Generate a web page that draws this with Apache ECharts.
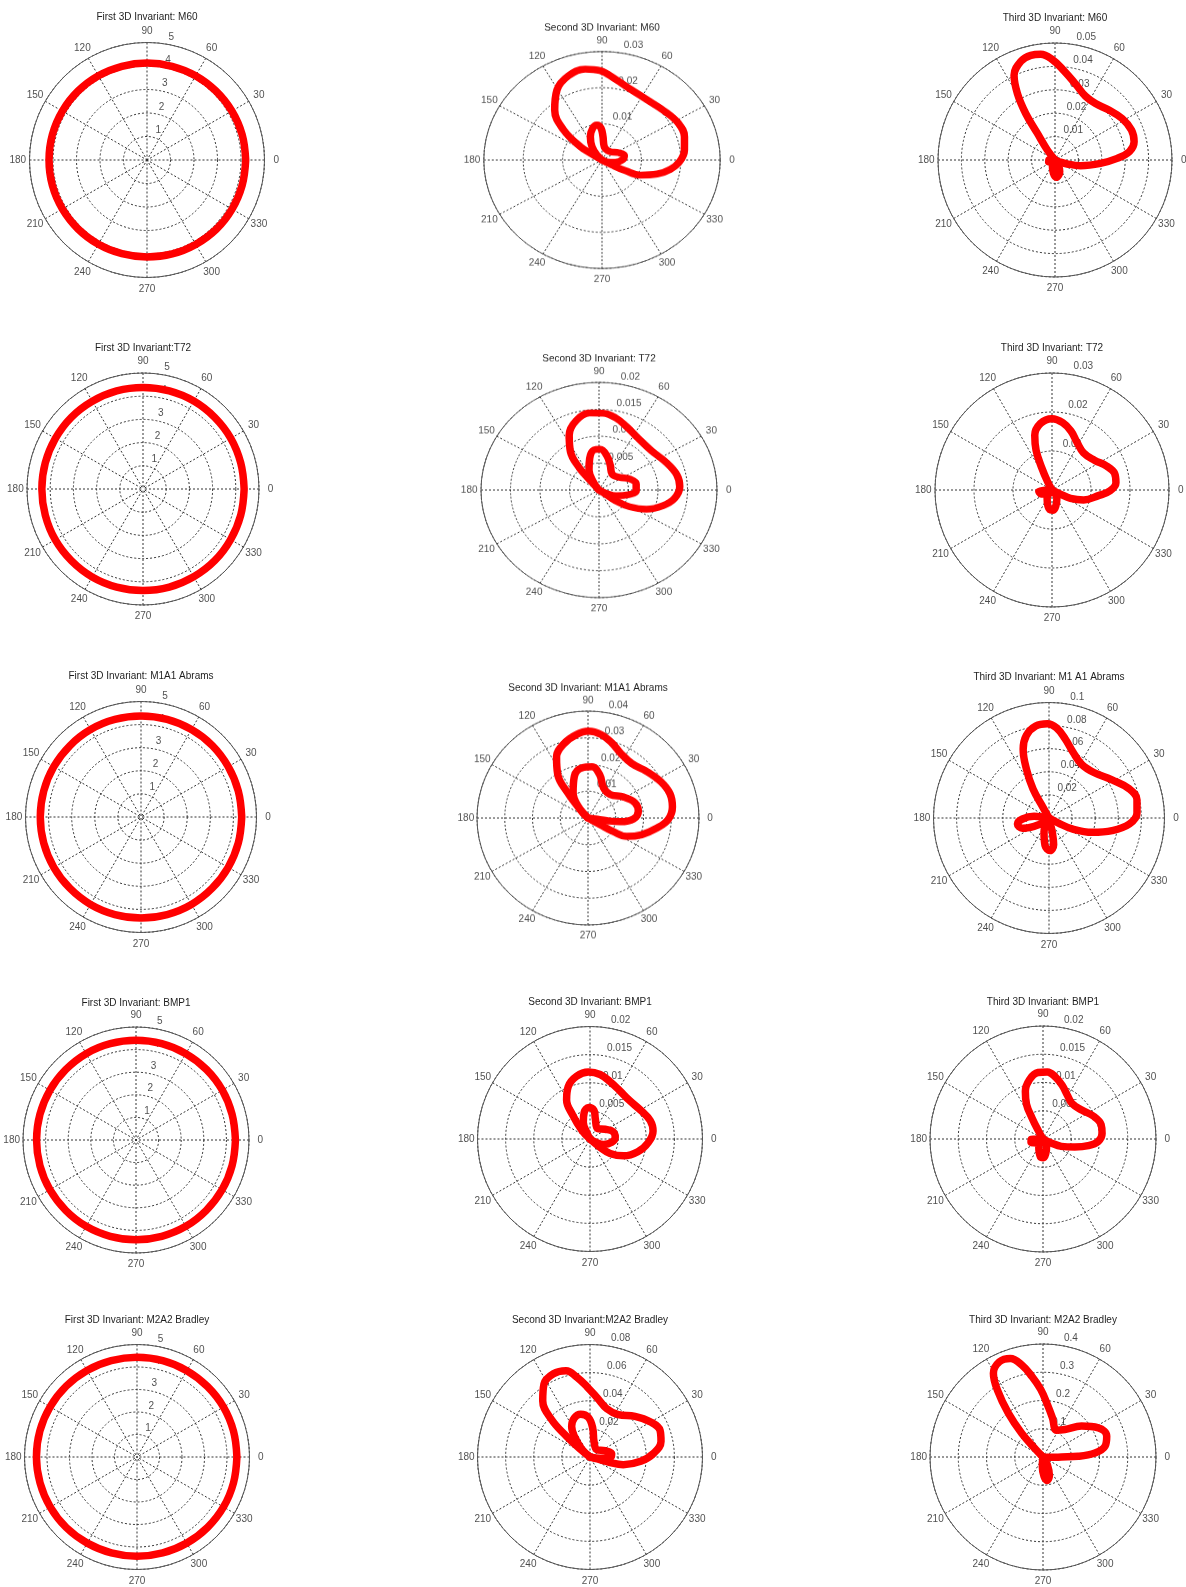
<!DOCTYPE html>
<html>
<head>
<meta charset="utf-8">
<script src="https://cdn.jsdelivr.net/npm/echarts@6/dist/echarts.min.js"></script>
<style>
  html, body { margin: 0; padding: 0; background: #fff; overflow: hidden; }
  body { position: relative; width: 1186px; height: 1587px; }
  .cell { position: absolute; width: 320px; height: 320px; transform-origin: 160px 160px; }
</style>
</head>
<body>
<script>
// ---- shared axis ticks ----
const angleTicks = [0, 30, 60, 90, 120, 150, 180, 210, 240, 270, 300, 330];
const circleAngles = [0, 15, 30, 45, 60, 75, 90, 105, 120, 135, 150, 165, 180,
                      195, 210, 225, 240, 255, 270, 285, 300, 315, 330, 345, 360];

const ticksFirst   = [1, 2, 3, 4, 5];
const ticks003     = [0.01, 0.02, 0.03];
const ticks005     = [0.01, 0.02, 0.03, 0.04, 0.05];
const ticks002     = [0.005, 0.01, 0.015, 0.02];
const ticks004     = [0.01, 0.02, 0.03, 0.04];
const ticks01      = [0.02, 0.04, 0.06, 0.08, 0.1];
const ticks008     = [0.02, 0.04, 0.06, 0.08];
const ticks04      = [0.1, 0.2, 0.3, 0.4];

// ---- first invariant: radius every 15 degrees ----
const m60FirstR   = [4.20, 4.19, 4.17, 4.15, 4.14, 4.13, 4.13, 4.13, 4.14, 4.15, 4.16, 4.17, 4.17,
                     4.17, 4.16, 4.15, 4.14, 4.13, 4.13, 4.14, 4.15, 4.17, 4.18, 4.19, 4.20];
const t72FirstR   = [4.36, 4.36, 4.37, 4.37, 4.38, 4.38, 4.38, 4.38, 4.37, 4.37, 4.36, 4.36, 4.36,
                     4.36, 4.37, 4.37, 4.38, 4.38, 4.38, 4.38, 4.37, 4.37, 4.36, 4.36, 4.36];
const m1a1FirstR  = [4.36, 4.36, 4.36, 4.37, 4.37, 4.37, 4.37, 4.37, 4.37, 4.36, 4.36, 4.36, 4.36,
                     4.36, 4.36, 4.36, 4.37, 4.37, 4.37, 4.37, 4.37, 4.36, 4.36, 4.36, 4.36];
const bmp1FirstR  = [4.40, 4.40, 4.41, 4.41, 4.41, 4.41, 4.41, 4.41, 4.41, 4.40, 4.40, 4.40, 4.40,
                     4.40, 4.40, 4.40, 4.41, 4.41, 4.41, 4.41, 4.41, 4.40, 4.40, 4.40, 4.40];
const m2a2FirstR  = [4.44, 4.44, 4.44, 4.43, 4.43, 4.43, 4.43, 4.43, 4.44, 4.45, 4.46, 4.47, 4.47,
                     4.46, 4.45, 4.44, 4.42, 4.41, 4.41, 4.41, 4.42, 4.43, 4.44, 4.44, 4.44];

// ---- second / third invariant traces: [radius, angle in degrees] ----
const m60SecondOuter = [[0,146],[0.0030,148],[0.0066,146],[0.0128,139.5],[0.0183,131],[0.0225,120.5],
  [0.0248,110],[0.0255,99.6],[0.0247,91],[0.0226,81.4],[0.0209,70],[0.0202,55.5],[0.0209,39.8],
  [0.0219,27.6],[0.0219,17.1],[0.0211,7.5],[0.0197,-1.3],[0.0175,-8.5],[0.0145,-15.5],[0.0106,-23.1],
  [0.0066,-26.5],[0.0029,-28.5],[0,-30]];
const m60SecondInner = [[0,130],[0.0019,132.6],[0.0045,124.5],[0.0071,114.6],[0.0091,105.1],[0.0098,97.5],
  [0.0088,91.6],[0.0065,87.8],[0.0037,80.9],[0.0031,47.6],[0.0047,25.6],[0.0058,12.8],[0.0053,1.9],
  [0.0034,-10.9],[0.0014,-23.4],[0,-30]];

const m60ThirdLobe = [[0,125],[0.0054,127.5],[0.0136,123.5],[0.0235,122.2],[0.0326,119.5],[0.0402,115.8],
  [0.0446,109.1],[0.0459,103],[0.0456,97.7],[0.0429,91.5],[0.0383,84.2],[0.0336,74.8],[0.0302,64.4],
  [0.0297,54.3],[0.0314,42.8],[0.0337,31.7],[0.0351,21.4],[0.0347,13],[0.0320,6.4],[0.0266,1.5],
  [0.0195,-4.2],[0.0112,-12.5],[0.0055,-18],[0.0019,-22.6],[0,-25]];
const m60ThirdTail = [[0,180],[0.0026,180],[0.0028,195],[0.0012,215],[0,230],[0.0024,242],[0.0057,263],
  [0.0074,274],[0.0054,292],[0.0026,304],[0,310]];

const t72SecondOuter = [[0,130],[0.0020,130],[0.0052,129],[0.0086,124.2],[0.0114,116.3],[0.0135,106.5],
  [0.0144,96.3],[0.0143,87.3],[0.0137,78.1],[0.0127,68.6],[0.0117,55.6],[0.0115,39.6],[0.0125,24.1],
  [0.0135,12],[0.0137,2.6],[0.0129,-6.9],[0.0112,-15.1],[0.0088,-23.9],[0.0060,-31],[0.0035,-35.2],
  [0.0015,-35],[0,-35]];
const t72SecondInner = [[0,120],[0.0016,123.3],[0.0041,114.4],[0.0061,105],[0.0075,96.5],[0.0076,88.3],
  [0.0065,78.1],[0.0050,67.6],[0.0037,52.9],[0.0042,34.1],[0.0056,21.6],[0.0064,10.1],[0.0063,-1.1],
  [0.0051,-9.7],[0.0031,-19.8],[0.0014,-26.6],[0,-30]];

const t72ThirdLobe = [[0,118],[0.0021,118.6],[0.0066,114.6],[0.0110,111.8],[0.0147,107.5],[0.0173,99.9],
  [0.0183,90],[0.0175,81],[0.0159,72.2],[0.0138,62.3],[0.0125,49.7],[0.0133,35.1],[0.0153,23.6],
  [0.0166,14.9],[0.0165,6.5],[0.0149,-0.7],[0.0120,-6.9],[0.0085,-17.5],[0.0052,-24.4],[0.0024,-25.6],[0,-26]];
const t72ThirdTail = [[0,180],[0.0034,185],[0.0030,200],[0.0012,215],[0,230],[0.0025,240],[0.0051,264],
  [0.0052,273],[0.0025,300],[0,310]];

const m1a1SecondOuter = [[0,130],[0.0045,131.5],[0.0119,127.8],[0.0196,123.8],[0.0255,116.4],[0.0291,107.4],
  [0.0315,97.6],[0.0325,89.6],[0.0316,81.5],[0.0294,73],[0.0269,63.9],[0.0258,52.3],[0.0274,39.6],
  [0.0295,27.7],[0.0309,17.2],[0.0307,7.7],[0.0289,-1.2],[0.0252,-8.5],[0.0203,-17.9],[0.0156,-26.2],
  [0.0103,-29.2],[0.0051,-29.5],[0,-30]];
const m1a1SecondInner = [[0,130],[0.0042,131.3],[0.0108,119.8],[0.0164,107.4],[0.0189,96.5],[0.0192,85.7],
  [0.0168,75.6],[0.0126,63.5],[0.0119,47.6],[0.0150,31.7],[0.0179,18.4],[0.0183,7.8],[0.0164,-1.3],
  [0.0117,-6.8],[0.0069,-8.4],[0.0027,-8.2],[0,-8]];

const m1a1ThirdLobe = [[0,120],[0.0106,119.4],[0.0286,118.9],[0.0466,114.8],[0.0636,110.6],[0.0742,105.3],
  [0.0804,98.2],[0.0816,91],[0.0784,85.4],[0.0701,78.6],[0.0608,70.1],[0.0544,58.8],[0.0553,45.4],
  [0.0638,31.2],[0.0736,20.3],[0.0778,11.7],[0.0763,3.2],[0.0698,-4.3],[0.0557,-11.3],[0.0394,-18.3],
  [0.0222,-25.2],[0.0098,-28.1],[0,-30]];
const m1a1ThirdPetals = [[0,170],[0.0130,173.7],[0.0230,182.1],[0.0278,190.7],[0.0247,201.2],[0.0148,209.1],
  [0.0057,220.9],[0,240],[0.0131,250.8],[0.0241,261.8],[0.0282,271.8],[0.0236,279.8],[0.0127,283.1],
  [0.0053,282.5],[0,285]];

const bmp1SecondOuter = [[0,135],[0.0020,133.8],[0.0053,125.8],[0.0081,120.9],[0.0101,112.5],[0.0114,102.1],
  [0.0119,91.4],[0.0116,81.1],[0.0108,70.8],[0.0101,59],[0.0098,44.5],[0.0104,28.8],[0.0112,17],
  [0.0113,7.3],[0.0104,-3.3],[0.0088,-15],[0.0067,-26.6],[0.0044,-35.6],[0.0022,-39.4],[0,-40]];
const bmp1SecondInner = [[0,115],[0.0013,116.6],[0.0032,111.8],[0.0049,102],[0.0056,92.4],[0.0051,82],
  [0.0037,75.1],[0.0023,54.3],[0.0032,32.8],[0.0043,17.9],[0.0045,3.8],[0.0039,-8.7],[0.0026,-21.8],
  [0.0012,-29.1],[0,-30]];

const bmp1ThirdLobe = [[0,118],[0.0016,119.5],[0.0042,117.6],[0.0068,115.4],[0.0090,110.3],[0.0108,102.7],
  [0.0118,94.3],[0.0119,86.3],[0.0112,78.7],[0.0101,70.4],[0.0089,61.2],[0.0081,50],[0.0086,36.3],
  [0.0098,24.4],[0.0106,14],[0.0105,5.2],[0.0098,-2.4],[0.0081,-8.4],[0.0058,-14.2],[0.0035,-21.8],
  [0.0016,-25.6],[0,-26]];
const bmp1ThirdTail = [[0,180],[0.0021,182],[0.0022,195],[0.0012,215],[0,230],[0.0015,240],[0.0032,262],
  [0.0033,271],[0.0015,295],[0,310]];

const m2a2SecondOuter = [[0,140],[0.0091,141.3],[0.0222,138.5],[0.0380,135.8],[0.0523,130],[0.0614,122.2],
  [0.0647,113.7],[0.0637,105.5],[0.0577,99.5],[0.0498,92.2],[0.0423,82.9],[0.0364,71],[0.0362,56.2],
  [0.0431,42.1],[0.0498,30],[0.0533,20.9],[0.0517,12.4],[0.0456,3.6],[0.0362,-4.9],[0.0243,-13],
  [0.0135,-15.3],[0.0054,-15.3],[0,-15]];
const m2a2SecondInner = [[0,135],[0.0082,136.2],[0.0184,127.2],[0.0254,120.9],[0.0299,111.9],[0.0311,102.3],
  [0.0282,92.4],[0.0207,84.7],[0.0115,75.7],[0.0071,47.7],[0.0116,22.9],[0.0156,8.7],[0.0142,-1.9],
  [0.0072,-7.6],[0,-10]];

const m2a2ThirdLobe = [[0,134],[0.0394,133.8],[0.1118,132],[0.1969,128.4],[0.2835,124.4],[0.3449,120.6],
  [0.3707,114.6],[0.3675,108.3],[0.3337,102.9],[0.2876,97.8],[0.2399,92],[0.1870,85.3],[0.1428,76.5],
  [0.1062,63.4],[0.1242,51.6],[0.1748,38.7],[0.2214,27.8],[0.2373,18.1],[0.2228,9.8],[0.1846,4.4],
  [0.1246,1.1],[0.0653,0],[0.0297,-2.3],[0,-3]];
const m2a2ThirdPetal = [[0,260],[0.0333,265.9],[0.0689,273],[0.0843,279.7],[0.0702,288.7],[0.0314,299.5],[0,300]];

// pair a radius list with the shared sampling angles
function ring(radii) {
  return radii.map((r, i) => [r, circleAngles[i]]);
}

// ---- panel layout: centre, horizontal / vertical radius (px) ----
const panels = [
  { title: 'First 3D Invariant: M60',  cx: 147,   cy: 160,    rx: 117.5, ry: 117.5, rmax: 5,    step: 1,     ticks: ticksFirst, curves: [ring(m60FirstR)] },
  { title: 'Second 3D Invariant: M60', cx: 601.5, cy: 160,    rx: 118.2, ry: 108.5, rmax: 0.03, step: 0.01,  ticks: ticks003,   curves: [m60SecondOuter, m60SecondInner] },
  { title: 'Third 3D Invariant: M60',  cx: 1054.5,cy: 160,    rx: 117,   ry: 117,   rmax: 0.05, step: 0.01,  ticks: ticks005,   curves: [m60ThirdLobe, m60ThirdTail] },

  { title: 'First 3D Invariant:T72',   cx: 142.5, cy: 489,    rx: 116,   ry: 116,   rmax: 5,    step: 1,     ticks: ticksFirst, curves: [ring(t72FirstR)] },
  { title: 'Second 3D Invariant: T72', cx: 599.3, cy: 490,    rx: 118,   ry: 107.6, rmax: 0.02, step: 0.005, ticks: ticks002,   curves: [t72SecondOuter, t72SecondInner] },
  { title: 'Third 3D Invariant: T72',  cx: 1051.7,cy: 490,    rx: 117,   ry: 117,   rmax: 0.03, step: 0.01,  ticks: ticks003,   curves: [t72ThirdLobe, t72ThirdTail] },

  { title: 'First 3D Invariant: M1A1 Abrams',  cx: 141.2, cy: 817.2, rx: 115.5, ry: 115.5, rmax: 5,    step: 1,    ticks: ticksFirst, curves: [ring(m1a1FirstR)] },
  { title: 'Second 3D Invariant: M1A1 Abrams', cx: 587.7, cy: 818.3, rx: 111,   ry: 106.9, rmax: 0.04, step: 0.01, ticks: ticks004,   curves: [m1a1SecondOuter, m1a1SecondInner] },
  { title: 'Third 3D Invariant: M1 A1 Abrams', cx: 1049,  cy: 817.5, rx: 115.5, ry: 115.5, rmax: 0.1,  step: 0.02, ticks: ticks01,    curves: [m1a1ThirdLobe, m1a1ThirdPetals] },

  { title: 'First 3D Invariant: BMP1',  cx: 136.3, cy: 1139.5, rx: 113,   ry: 113,   rmax: 5,    step: 1,     ticks: ticksFirst, curves: [ring(bmp1FirstR)] },
  { title: 'Second 3D Invariant: BMP1', cx: 590,   cy: 1139,   rx: 112.5, ry: 112.5, rmax: 0.02, step: 0.005, ticks: ticks002,   curves: [bmp1SecondOuter, bmp1SecondInner] },
  { title: 'Third 3D Invariant: BMP1',  cx: 1043.3,cy: 1139.3, rx: 113,   ry: 113,   rmax: 0.02, step: 0.005, ticks: ticks002,   curves: [bmp1ThirdLobe, bmp1ThirdTail] },

  { title: 'First 3D Invariant: M2A2 Bradley', cx: 137,    cy: 1457.3, rx: 112.5, ry: 112.5, rmax: 5,    step: 1,    ticks: ticksFirst, curves: [ring(m2a2FirstR)] },
  { title: 'Second 3D Invariant:M2A2 Bradley', cx: 590,    cy: 1457.3, rx: 112.5, ry: 112.5, rmax: 0.08, step: 0.02, ticks: ticks008,   curves: [m2a2SecondOuter, m2a2SecondInner] },
  { title: 'Third 3D Invariant: M2A2 Bradley', cx: 1043.3, cy: 1457.3, rx: 113,   ry: 113,   rmax: 0.4,  step: 0.1,  ticks: ticks04,    curves: [m2a2ThirdLobe, m2a2ThirdPetal] }
];

const FONT = '"Liberation Sans", Arial, Helvetica, sans-serif';
const TEXT = '#1e1e1e';
const gridLine = { color: '#333', width: 1, type: [2, 2] };

function buildOption(p) {
  const series = [];

  // angle labels, centred just outside the rim
  series.push({
    type: 'scatter', coordinateSystem: 'polar', clip: false, silent: true, z: 1,
    symbolSize: 1, itemStyle: { color: 'rgba(0,0,0,0)' },
    data: angleTicks.map(a => ({ value: [p.rmax * 1.1, a], name: String(a) })),
    label: { show: true, position: 'inside', formatter: '{b}', color: TEXT,
             fontFamily: FONT, fontSize: 10, align: 'center', verticalAlign: 'middle' }
  });

  // radial tick labels along the 82 degree ray
  series.push({
    type: 'scatter', coordinateSystem: 'polar', clip: false, silent: true, z: 1,
    symbolSize: 1, itemStyle: { color: 'rgba(0,0,0,0)' },
    data: p.ticks.map(t => ({ value: [t + p.step / 20, 82], name: '  ' + String(t) })),
    label: { show: true, position: [0, 0], formatter: '{b}', color: TEXT,
             fontFamily: FONT, fontSize: 10, align: 'left', verticalAlign: 'bottom' }
  });

  p.curves.forEach(c => {
    series.push({
      type: 'line', coordinateSystem: 'polar', data: c, z: 3, clip: false,
      symbol: 'none', showSymbol: false, smooth: 0.4, silent: true,
      lineStyle: { color: '#ff0000', width: 7.5, cap: 'round', join: 'round' }
    });
  });

  return {
    animation: false,
    backgroundColor: 'transparent',
    title: {
      text: p.title, left: 'center', top: 160 - 1.25 * p.rx - 6,
      textStyle: { fontFamily: FONT, fontSize: 10, fontWeight: 'normal', color: TEXT }
    },
    polar: { center: ['50%', '50%'], radius: p.rx },
    angleAxis: {
      type: 'value', min: 0, max: 360, interval: 30, startAngle: 0, clockwise: false,
      axisLine: { show: true, lineStyle: { color: '#555', width: 1 } },
      axisTick: { show: false }, axisLabel: { show: false },
      splitLine: { show: true, lineStyle: gridLine }
    },
    radiusAxis: {
      type: 'value', min: 0, max: p.rmax, interval: p.step,
      axisLine: { show: false }, axisTick: { show: false }, axisLabel: { show: false },
      splitLine: { show: true, lineStyle: gridLine }
    },
    series
  };
}

panels.forEach(p => {
  const el = document.createElement('div');
  el.className = 'cell';
  el.style.left = (p.cx - 160) + 'px';
  el.style.top = (p.cy - 160) + 'px';
  if (Math.abs(p.ry - p.rx) > 0.5) {
    el.style.transform = 'scaleY(' + (p.ry / p.rx) + ')';
  }
  document.body.appendChild(el);
  const chart = echarts.init(el, null, { renderer: 'canvas' });
  chart.setOption(buildOption(p));
});
</script>
</body>
</html>
